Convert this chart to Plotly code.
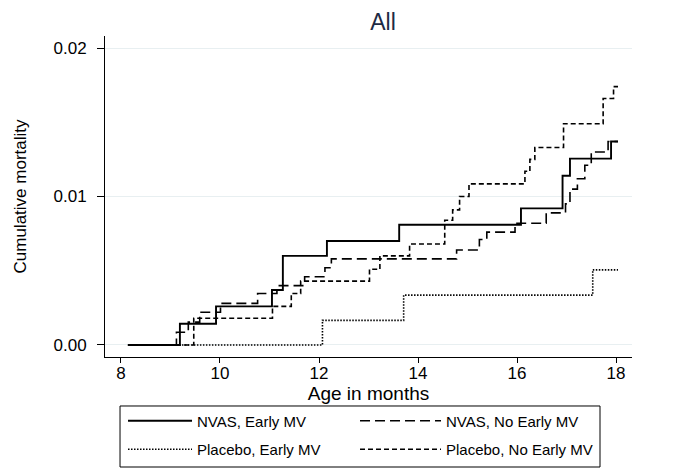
import plotly.graph_objects as go

# Step-function data: (age in months, cumulative mortality) at each jump
nvas_early_t = [8.14, 9.19, 9.92, 11.05, 11.27, 12.16, 13.62, 16.08, 16.92, 17.07, 17.90, 18.04]
nvas_early_v = [0.0, 0.00143, 0.0026, 0.0037, 0.0060, 0.0070, 0.0081, 0.0092, 0.0114, 0.01255, 0.0137, 0.0137]

nvas_noearly_t = [8.14, 9.12, 9.36, 9.59, 10.01, 10.76, 11.15, 11.71, 12.12, 12.25, 14.78, 15.24, 15.39,
                  15.96, 16.59, 16.98, 17.07, 17.22, 17.37, 17.50, 17.84, 18.04]
nvas_noearly_v = [0.0, 0.00086, 0.00154, 0.0022, 0.0028, 0.00347, 0.0040, 0.0046, 0.0052, 0.0058, 0.0064, 0.0071, 0.0076,
                  0.0082, 0.0089, 0.0095, 0.0105, 0.0112, 0.0121, 0.0130, 0.0137, 0.0137]

placebo_early_t = [8.14, 12.07, 13.71, 17.53, 18.04]
placebo_early_v = [0.0, 0.00166, 0.00336, 0.00506, 0.00506]

placebo_noearly_t = [8.14, 9.47, 11.06, 11.44, 11.63, 13.02, 13.23, 13.83, 14.54, 14.70, 14.84, 15.03,
                     16.16, 16.26, 16.36, 16.94, 17.74, 17.95, 18.04]
placebo_noearly_v = [0.0, 0.0018, 0.0026, 0.00347, 0.0043, 0.0051, 0.0060, 0.0068, 0.0084, 0.0091, 0.0100, 0.01085,
                     0.0117, 0.0125, 0.0133, 0.0149, 0.0166, 0.0174, 0.0174]

series_names = ["NVAS, Early MV", "NVAS, No Early MV", "Placebo, Early MV", "Placebo, No Early MV"]

x_ticks = [8, 10, 12, 14, 16, 18]
y_ticks = [0.0, 0.01, 0.02]
y_ticklabels = ["0.00", "0.01", "0.02"]

FONT = "Liberation Sans, Arial, sans-serif"

fig = go.Figure()
series = [
    (nvas_early_t, nvas_early_v, "solid", 1.9, "legend"),
    (nvas_noearly_t, nvas_noearly_v, "10px,5px", 1.6, "legend2"),
    (placebo_early_t, placebo_early_v, "1.5px,1.5px", 1.6, "legend"),
    (placebo_noearly_t, placebo_noearly_v, "5px,3px", 1.6, "legend2"),
]
for i, ((t, v, dash, w, leg), name) in enumerate(zip(series, series_names)):
    fig.add_trace(go.Scatter(
        x=t, y=v, mode="lines", name=name, legend=leg, legendgroup=f"g{i}",
        line=dict(color="black", width=w, dash=dash, shape="hv"),
    ))

legend_common = dict(
    orientation="v", xanchor="left", yanchor="middle", y=-0.243,
    borderwidth=0, bgcolor="rgba(0,0,0,0)", traceorder="grouped",
    tracegroupgap=6, font=dict(size=15),
)

fig.update_layout(
    width=665, height=460,
    margin=dict(l=97, r=41, t=28, b=111, autoexpand=False),
    paper_bgcolor="white", plot_bgcolor="white",
    font=dict(family=FONT, size=16, color="black"),
    title=dict(text="All", x=0.5275, xref="paper", xanchor="center",
               y=1 - 14 / 460, yref="container", yanchor="middle",
               font=dict(size=23, color="#1e2a44")),
    showlegend=True,
    legend=dict(legend_common, x=0.0342, itemwidth=64),
    legend2=dict(legend_common, x=0.4744, itemwidth=81),
    shapes=[dict(type="rect", xref="paper", yref="paper",
                 x0=0.0285, x1=0.9393, y0=-0.3427, y1=-0.1526,
                 line=dict(color="black", width=1), fillcolor="rgba(0,0,0,0)", layer="below")],
    xaxis=dict(
        range=[7.677, 18.323], tickvals=x_ticks, ticks="outside", ticklen=5,
        tickcolor="black", showline=True, linecolor="black", linewidth=1,
        showgrid=False, zeroline=False, tickfont=dict(size=17), ticklabelstandoff=-4,
        title=dict(text="Age in months", standoff=0, font=dict(size=19)),
    ),
    yaxis=dict(
        range=[-0.00081, 0.02081], tickvals=y_ticks, ticktext=y_ticklabels,
        ticks="outside", ticklen=7, tickcolor="black", ticklabelstandoff=7,
        showline=True, linecolor="black", linewidth=1, tickfont=dict(size=17),
        showgrid=True, gridcolor="#e8eff1", gridwidth=1.2, zeroline=False,
        title=dict(text="Cumulative mortality", standoff=22, font=dict(size=17)),
    ),
)

fig.write_html("out.html")
